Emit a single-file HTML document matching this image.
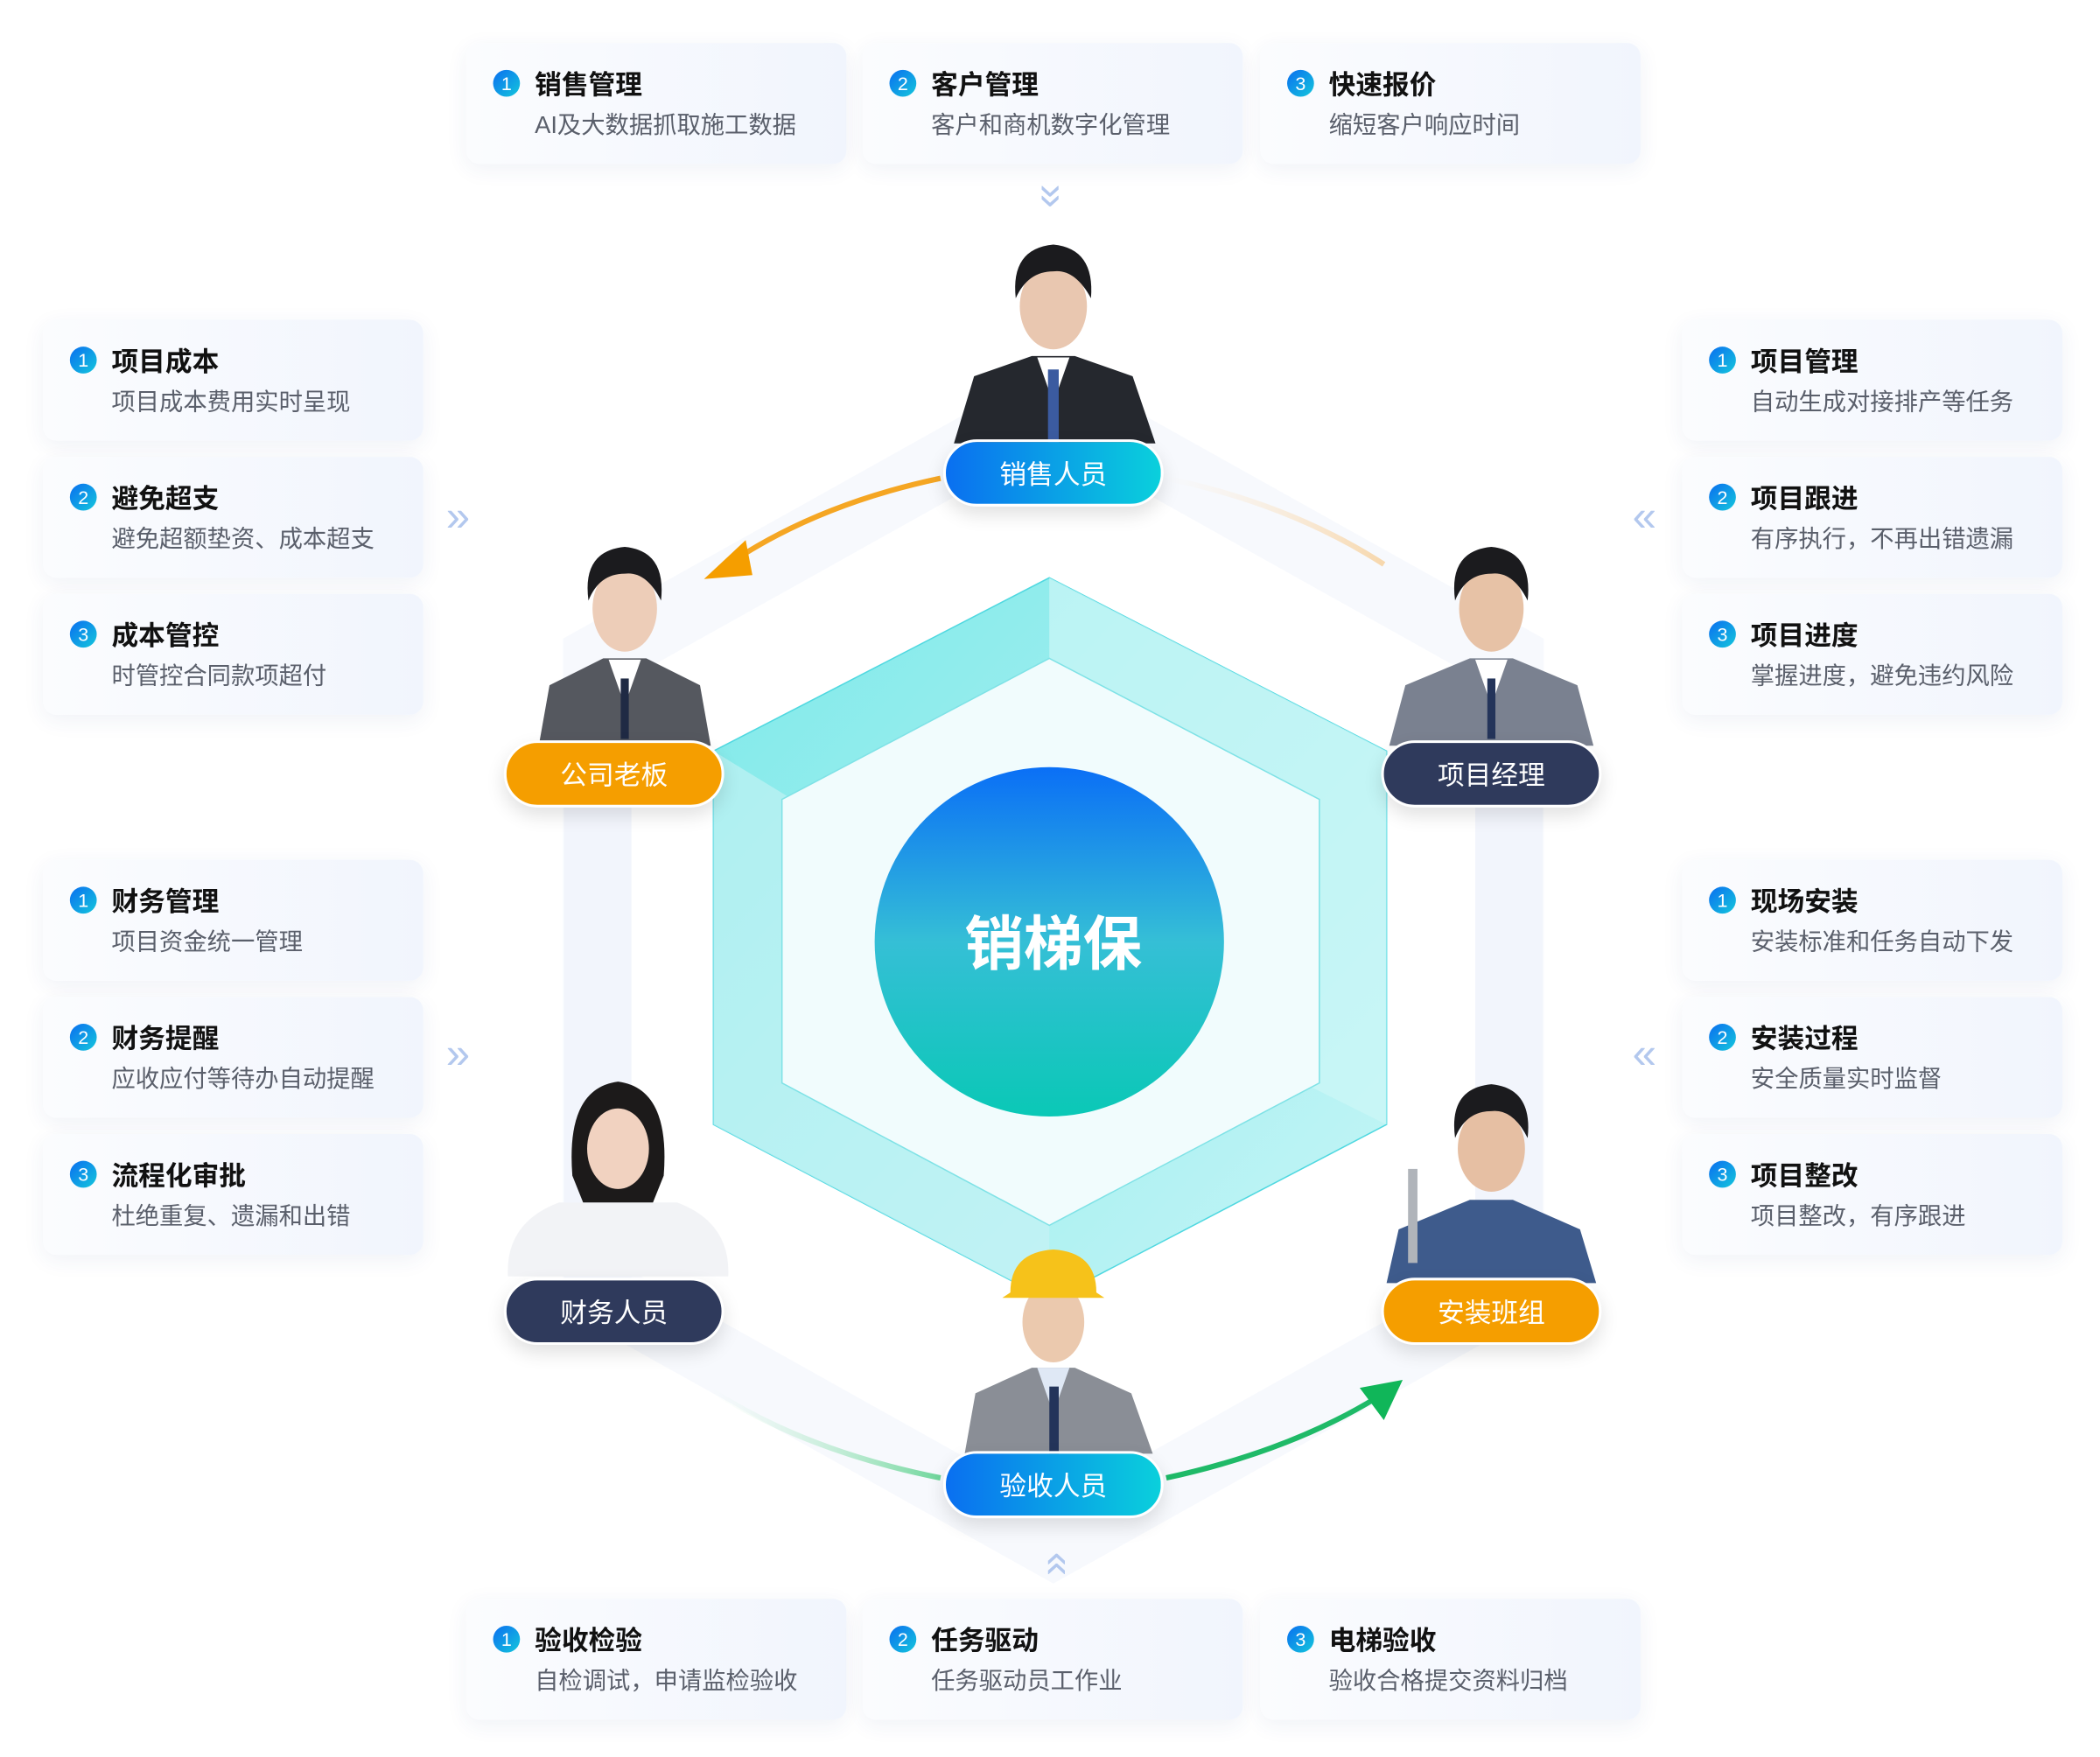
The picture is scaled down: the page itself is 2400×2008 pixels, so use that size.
<!DOCTYPE html>
<html><head><meta charset="utf-8"><style>
html,body{margin:0;padding:0;background:#fff;}
body{width:2400px;height:2008px;overflow:hidden;position:relative;font-family:"Liberation Sans","Noto Sans CJK SC",sans-serif;}
#st{position:absolute;left:0;top:0;width:1563px;height:1308px;transform:scale(1.53551);transform-origin:0 0;}
.card{position:absolute;width:283px;height:90px;border-radius:10px;background:linear-gradient(90deg,#fbfcfe,#f1f5fd);box-shadow:0 4px 16px rgba(40,70,140,0.07);}
.card .n{position:absolute;left:20px;top:20px;width:20px;height:20px;border-radius:50%;background:linear-gradient(135deg,#0a6ef0,#14c7dc);color:#fff;font-size:14px;line-height:20px;text-align:center;}
.card .t{position:absolute;left:51px;top:15px;font-size:20px;font-weight:bold;color:#111;white-space:nowrap;}
.card .s{position:absolute;left:51px;top:47px;font-size:17.8px;color:#5a5f6b;white-space:nowrap;}
.pill{position:absolute;width:164px;height:50px;border-radius:25px;color:#fff;font-size:20px;line-height:50px;text-align:center;border:2px solid #fff;box-sizing:border-box;box-shadow:0 6px 14px rgba(0,0,0,0.12);}
.blue{background:linear-gradient(90deg,#0a6ff0,#0ad0dc);}
.org{background:#f59e00;}
.navy{background:#2f3a5c;}
.chev{position:absolute;color:#b3c8ee;font-size:32px;line-height:32px;}
</style></head><body><div id="st">
<svg width="1563" height="1308" style="position:absolute;left:0;top:0">
<defs>
<linearGradient id="cg" x1="0" y1="0" x2="0" y2="1"><stop offset="0" stop-color="#0a6ff6"/><stop offset="0.5" stop-color="#35bfd6"/><stop offset="1" stop-color="#0ac8b6"/></linearGradient>
<linearGradient id="hg" x1="0" y1="0" x2="1" y2="1"><stop offset="0" stop-color="#7ee9e9"/><stop offset="1" stop-color="#c6f5f6"/></linearGradient>
<linearGradient id="og" x1="1" y1="0" x2="0" y2="0"><stop offset="0" stop-color="#f7c98a" stop-opacity="0.7"/><stop offset="1" stop-color="#fbe6c8" stop-opacity="0"/></linearGradient>
<linearGradient id="gg" x1="1" y1="0" x2="0" y2="0"><stop offset="0" stop-color="#6fd69b"/><stop offset="1" stop-color="#c9f0da" stop-opacity="0"/></linearGradient>
</defs>
<polygon points="784,300 1124,490 1124,960 784,1150 444,960 444,490" fill="none" stroke="#f7f9fd" stroke-width="50"/>
<rect x="420" y="600" width="50" height="360" fill="#f2f5fc"/>
<rect x="1098" y="600" width="50" height="360" fill="#f2f5fc"/>
<polygon points="781,430 1032,559 1032,837 781,968 531,837 531,559" fill="url(#hg)" stroke="#4fd8e0" stroke-width="1"/>
<polygon points="781,430 1032,559 1032,837 781,712" fill="#cdf6f7" opacity="0.7"/>
<polygon points="781,968 531,837 531,559 781,712" fill="#c9f4f5" opacity="0.6"/>
<polygon points="781,490 982,595 982,806 781,912 582,806 582,595" fill="#f1fcfd" stroke="#7fe2e6" stroke-width="1"/>
<circle cx="781" cy="701" r="130" fill="url(#cg)"/>
<text x="784" y="718" text-anchor="middle" font-size="44" font-weight="bold" fill="#fff" font-family="Liberation Sans,Noto Sans CJK SC,sans-serif">销梯保</text>
<path d="M700,356 Q610,375 545,418" fill="none" stroke="#f5a623" stroke-width="4"/>
<polygon points="524,431 555,402 560,428" fill="#f59e00"/>
<path d="M868,356 Q960,375 1030,420" fill="none" stroke="url(#og)" stroke-width="4"/>
<path d="M868,1100 Q960,1080 1025,1040" fill="none" stroke="#1fba68" stroke-width="4"/>
<polygon points="1044,1027 1012,1033 1030,1057" fill="#10b659"/>
<path d="M700,1100 Q600,1080 530,1035" fill="none" stroke="url(#gg)" stroke-width="4"/>
<g>
<path d="M710,330 L725,280 L768,265 L800,265 L843,280 L860,330 Z" fill="#25282e"/><path d="M772,266 L784,300 L796,266 Z" fill="#fff"/><rect x="780" y="275" width="8" height="55" fill="#3b5ba0"/><ellipse cx="784" cy="228" rx="25" ry="32" fill="#e9c7b0"/><path d="M756,222 Q752,185 784,182 Q815,185 812,222 Q800,200 784,202 Q765,202 756,222Z" fill="#1b1b1e"/>
</g>
<g transform="translate(-319,225)"><path d="M720,330 L728,285 L768,265 L800,265 L840,285 L848,330 Z" fill="#55585f"/><path d="M772,266 L784,300 L796,266 Z" fill="#fff"/><rect x="781" y="280" width="6" height="45" fill="#1f2a44"/><ellipse cx="784" cy="228" rx="24" ry="32" fill="#edcdb8"/><path d="M757,222 Q752,185 784,182 Q815,185 811,222 Q800,200 784,202 Q765,202 757,222Z" fill="#1b1b1e"/></g>
<g transform="translate(326,225)"><path d="M708,330 L720,285 L768,265 L800,265 L848,285 L860,330 Z" fill="#7a8190"/><path d="M772,266 L784,300 L796,266 Z" fill="#fff"/><rect x="781" y="280" width="6" height="45" fill="#24345a"/><ellipse cx="784" cy="228" rx="24" ry="32" fill="#e7c2a6"/><path d="M757,222 Q752,185 784,182 Q815,185 811,222 Q800,200 784,202 Q765,202 757,222Z" fill="#1b1b1e"/></g>
<g transform="translate(-324,625)"><path d="M702,325 Q700,285 740,270 L828,270 Q868,285 866,325 Z" fill="#f2f3f6"/><path d="M750,250 Q745,185 784,180 Q823,185 818,250 L810,270 L758,270Z" fill="#1c1a1a"/><ellipse cx="784" cy="230" rx="23" ry="30" fill="#f1d2c0"/></g>
<g transform="translate(326,625)"><path d="M706,330 L715,290 L768,268 L800,268 L850,290 L862,330 Z" fill="#3e5b8c"/><ellipse cx="784" cy="230" rx="25" ry="32" fill="#e6bfa3"/><path d="M757,222 Q752,185 784,182 Q815,185 811,222 Q800,200 784,202 Q765,202 757,222Z" fill="#1b1b1e"/><rect x="722" y="245" width="7" height="70" fill="#b0b4ba"/></g>
<g transform="translate(0,752)"><path d="M718,330 L726,285 L768,266 L800,266 L842,285 L858,330 Z" fill="#8a8e96"/><path d="M772,266 L784,300 L796,266 Z" fill="#dfe8f5"/><rect x="781" y="280" width="7" height="50" fill="#24345a"/><ellipse cx="784" cy="232" rx="23" ry="30" fill="#ebc9ae"/><path d="M752,210 Q752,180 784,178 Q816,180 816,210 L822,214 L746,214Z" fill="#f6c21a"/></g>
</svg>

<div class="chev" style="left:775px;top:130px;transform:rotate(90deg)">»</div>
<div class="chev" style="left:775px;top:1148px;transform:rotate(-90deg)">»</div>
<div class="chev" style="left:332px;top:368px">»</div>
<div class="chev" style="left:332px;top:768px">»</div>
<div class="chev" style="left:1215px;top:368px">«</div>
<div class="chev" style="left:1215px;top:768px">«</div>

<div class="card" style="left:347px;top:32px"><div class="n">1</div><div class="t">销售管理</div><div class="s">AI及大数据抓取施工数据</div></div>
<div class="card" style="left:642px;top:32px"><div class="n">2</div><div class="t">客户管理</div><div class="s">客户和商机数字化管理</div></div>
<div class="card" style="left:938px;top:32px"><div class="n">3</div><div class="t">快速报价</div><div class="s">缩短客户响应时间</div></div>

<div class="card" style="left:32px;top:238px"><div class="n">1</div><div class="t">项目成本</div><div class="s">项目成本费用实时呈现</div></div>
<div class="card" style="left:32px;top:340px"><div class="n">2</div><div class="t">避免超支</div><div class="s">避免超额垫资、成本超支</div></div>
<div class="card" style="left:32px;top:442px"><div class="n">3</div><div class="t">成本管控</div><div class="s">时管控合同款项超付</div></div>
<div class="card" style="left:32px;top:640px"><div class="n">1</div><div class="t">财务管理</div><div class="s">项目资金统一管理</div></div>
<div class="card" style="left:32px;top:742px"><div class="n">2</div><div class="t">财务提醒</div><div class="s">应收应付等待办自动提醒</div></div>
<div class="card" style="left:32px;top:844px"><div class="n">3</div><div class="t">流程化审批</div><div class="s">杜绝重复、遗漏和出错</div></div>

<div class="card" style="left:1252px;top:238px"><div class="n">1</div><div class="t">项目管理</div><div class="s">自动生成对接排产等任务</div></div>
<div class="card" style="left:1252px;top:340px"><div class="n">2</div><div class="t">项目跟进</div><div class="s">有序执行，不再出错遗漏</div></div>
<div class="card" style="left:1252px;top:442px"><div class="n">3</div><div class="t">项目进度</div><div class="s">掌握进度，避免违约风险</div></div>
<div class="card" style="left:1252px;top:640px"><div class="n">1</div><div class="t">现场安装</div><div class="s">安装标准和任务自动下发</div></div>
<div class="card" style="left:1252px;top:742px"><div class="n">2</div><div class="t">安装过程</div><div class="s">安全质量实时监督</div></div>
<div class="card" style="left:1252px;top:844px"><div class="n">3</div><div class="t">项目整改</div><div class="s">项目整改，有序跟进</div></div>

<div class="card" style="left:347px;top:1190px"><div class="n">1</div><div class="t">验收检验</div><div class="s">自检调试，申请监检验收</div></div>
<div class="card" style="left:642px;top:1190px"><div class="n">2</div><div class="t">任务驱动</div><div class="s">任务驱动员工作业</div></div>
<div class="card" style="left:938px;top:1190px"><div class="n">3</div><div class="t">电梯验收</div><div class="s">验收合格提交资料归档</div></div>

<div class="pill blue" style="left:702px;top:327px">销售人员</div>
<div class="pill org" style="left:375px;top:551px">公司老板</div>
<div class="pill navy" style="left:1028px;top:551px">项目经理</div>
<div class="pill navy" style="left:375px;top:951px">财务人员</div>
<div class="pill org" style="left:1028px;top:951px">安装班组</div>
<div class="pill blue" style="left:702px;top:1080px">验收人员</div>
</div></body></html>
